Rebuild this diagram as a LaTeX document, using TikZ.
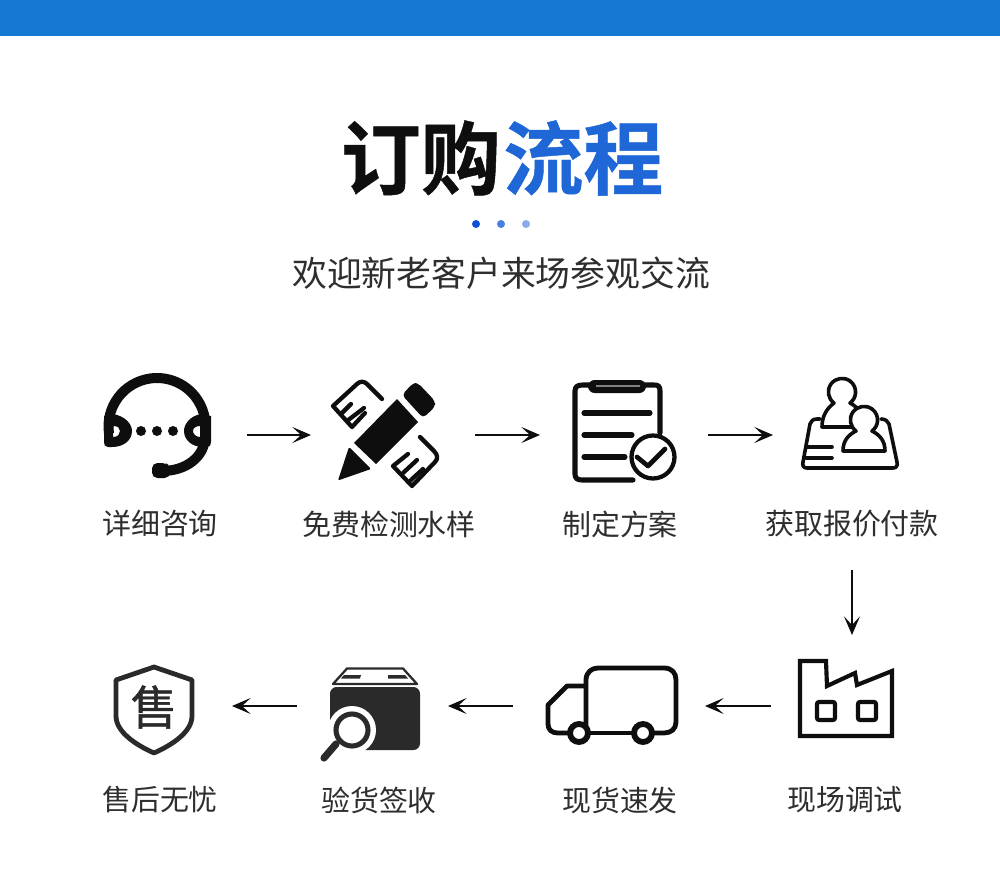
\documentclass[tikz,border=0pt]{standalone}
\usepackage{fontspec}
\usetikzlibrary{arrows.meta}
\setmainfont{Noto Sans CJK SC}
\newfontfamily\cjkl{Noto Sans CJK SC}
\newfontfamily\cjkm[FakeBold=1]{Noto Sans CJK SC}
\newfontfamily\cjkb[FakeBold=0.6]{Noto Sans CJK SC Bold}
\definecolor{bar}{HTML}{1478D2}
\definecolor{ttlblue}{HTML}{1F66D6}
\definecolor{dota}{HTML}{0F4FD8}
\definecolor{dotb}{HTML}{4A7FE0}
\definecolor{dotc}{HTML}{8AA9E8}
\definecolor{ink}{HTML}{0E0E0E}
\definecolor{txt}{HTML}{2E2E2E}
\definecolor{boxk}{HTML}{2A2A2A}
\tikzset{
  lbl/.style={inner sep=0pt,text=txt,font=\cjkl\fontsize{21.7}{24}\selectfont},
  conn/.style={draw=ink,line width=1.6pt,-{Stealth[length=14pt,width=12pt,inset=6.5pt]}},
  ico/.style={draw=ink,line width=3.2pt,line join=round,line cap=round},
  icoh/.style={draw=ink,line width=2.7pt,line join=round,line cap=round},
  icot/.style={draw=ink,line width=3.8pt,line join=round,line cap=round},
  slot/.style={inner sep=0pt,minimum size=0pt}
}
\begin{document}
\begin{tikzpicture}[x=0.75pt,y=-0.75pt]
\useasboundingbox (0,0) rectangle (1000,895);
\fill[white] (0,0) rectangle (1000,895);
\fill[bar] (0,0) rectangle (1000,36);
% title
\node[inner sep=0pt,anchor=east,text=ink,font=\cjkb\fontsize{60}{61}\selectfont] (t1) at (501,158) {订购};
\node[inner sep=0pt,anchor=west,text=ttlblue,font=\cjkb\fontsize{60}{61}\selectfont] (t2) at (503,158) {流程};
\fill[dota] (476,224) circle (4);
\fill[dotb] (501,224) circle (4);
\fill[dotc] (526,224) circle (4);
\node[inner sep=0pt,text=txt,font=\cjkl\fontsize{26.1}{28}\selectfont] (sub) at (501,273) {欢迎新老客户来场参观交流};
% labels
\node[lbl] (l1) at (160,524) {详细咨询};
\node[lbl] (l2) at (389,524) {免费检测水样};
\node[lbl] (l3) at (620,524) {制定方案};
\node[lbl] (l4) at (852,524) {获取报价付款};
\node[lbl] (l5) at (845,800) {现场调试};
\node[lbl] (l6) at (620,800) {现货速发};
\node[lbl] (l7) at (379,800) {验货签收};
\node[lbl] (l8) at (160,800) {售后无忧};
% headset
\draw[ink,line width=7.5pt] (157,426.5) ++(172:48.5) arc[start angle=172,end angle=368,radius=48.5];
\draw[ink,line width=7.5pt] (205,438) .. controls (204,457) and (186,471) .. (162,471);
\fill[ink,rounded corners=4pt] (152,463) -- (166,463) -- (170,466) -- (170,478) -- (152,478) -- cycle;
\fill[ink,even odd rule] (113,414) .. controls (125,416) and (132,424) .. (132,431) .. controls (132,440) and (124,447) .. (112,447) -- (108,447) .. controls (105,447) and (104,445) .. (104,442) -- (104,416) -- cycle
 (113,426) -- (113,437) .. controls (118,437) and (120,434) .. (120,431) .. controls (120,428) and (118,426) .. (113,426) -- cycle;
\fill[ink,even odd rule] (201,414) .. controls (190,416) and (184,424) .. (184,431) .. controls (184,440) and (192,447) .. (203,447) -- (207,447) .. controls (210,447) and (211,445) .. (211,442) -- (211,416) -- cycle
 (200,426) -- (200,437) .. controls (196,437) and (193,434) .. (193,431) .. controls (193,428) and (196,426) .. (200,426) -- cycle;
\foreach \x in {141,157,173} \fill[ink] (\x,431) circle (5);
% pencil & rulers
\fill[ink] (354,443) -- (397,399) -- (418,422) -- (376,464) -- cycle;
\fill[ink,rounded corners=3pt] (402,395) -- (413,383) -- (418,383) -- (435,401) -- (435,407) -- (423,418) -- cycle;
\fill[ink,rounded corners=1pt] (338,480.5) -- (349,447) -- (371,469) -- cycle;
\draw[ico] (382,399) -- (367,384) .. controls (364,381) and (360,381) .. (357,384) -- (333,406) -- (352,427) -- (365,413);
\draw[ico] (341,414) -- (351,404); \draw[ico] (347,421) -- (364,408);
\draw[ico] (420,437) -- (434,451) .. controls (438,455) and (438,459) .. (435,462) -- (412,486) -- (393,466) -- (408,454);
\draw[ico] (403,473) -- (417,460); \draw[ico] (411,480) -- (423,469);
% clipboard
\draw[icot] (660,433) -- (660,391) .. controls (660,386) and (658,385) .. (654,385) -- (583,385) .. controls (577,385) and (575,387) .. (575,391) -- (575,474) .. controls (575,478) and (577,480) .. (582,480) -- (633,480);
\fill[ink,rounded corners=5pt] (588,380) rectangle (646,393);
\draw[gray,line width=.8pt] (596,386) -- (640,386);
\draw[icot] (584,413) -- (650,413);
\draw[icot] (584,435) -- (632,435);
\draw[icot] (584,457) -- (625,457);
\draw[ink,line width=3.2pt] (653,457) circle (21.5);
\draw[ink,line width=3.5pt,line cap=round,line join=round] (637,457) -- (648,466) -- (665,449);
% people
\draw[icoh] (820,419) -- (817,419) .. controls (813,419) and (811,421) .. (810,424) -- (803,462) .. controls (802,466) and (804,468) .. (807,468) -- (893,468) .. controls (896,468) and (898,466) .. (897,462) -- (889,424) .. controls (888,421) and (885,419) .. (881,419);
\draw[icoh,fill=white] (822,427) .. controls (822,417) and (826,409) .. (834,403) arc[start angle=126,end angle=414,radius=13.6] .. controls (858,407) and (866,417) .. (866,427) -- cycle;
\draw[icoh,fill=white] (843,451) .. controls (843,441) and (848,435) .. (856,431) arc[start angle=126,end angle=414,radius=13.6] .. controls (880,435) and (885,441) .. (885,451) -- cycle;
\draw[icoh] (807,447) -- (832,447); \draw[icoh] (806,458) -- (832,458);
% factory
\draw[ico,line width=3.1pt,line cap=butt,line join=miter] (800,661) -- (826,661) -- (827,686) -- (855,673) -- (857,685) -- (892,671) -- (892,736) -- (800,736) -- cycle;
\draw[ico,line width=3.1pt,rounded corners=1.5pt] (817,702) rectangle (835,720);
\draw[ico,line width=3.1pt,rounded corners=1.5pt] (858,702) rectangle (876,720);
% truck
\draw[ink,line width=3.6pt,line join=round] (586,733) -- (586,680) .. controls (586,672) and (592,668) .. (598,668) -- (664,668) .. controls (672,668) and (676,673) .. (676,680) -- (676,722) .. controls (676,729) and (671,733) .. (664,733) -- (650,733);
\draw[ink,line width=3.6pt,line join=round] (586,686) -- (567,686) -- (548,705) -- (548,724) .. controls (548,730) and (552,733) .. (558,733) -- (568,733);
\draw[ink,line width=3.6pt] (590,733) -- (634,733);
\draw[ink,line width=4.4pt,fill=white] (579,733) circle (9);
\draw[ink,line width=4.4pt,fill=white] (643,733) circle (9);
% box
\fill[boxk,rounded corners=5pt] (330,687) rectangle (420,750);
\draw[boxk,line width=1.7pt,line join=round,fill=white] (333,684) -- (347,668.5) -- (403,668.5) -- (417,684) -- cycle;
\fill[boxk] (344,675) -- (361,675) -- (360,678.5) -- (341,678.5) -- cycle;
\fill[boxk] (388,675) -- (405,675) -- (408,678.5) -- (388,678.5) -- cycle;
\fill[white] (352,730) circle (24);
\fill[white] (325,730) rectangle (355,756);
\draw[boxk,line width=3.8pt,fill=white] (352,730) circle (16);
\draw[boxk,line width=5.4pt,line cap=round] (336,744) -- (324,758);
% shield
\draw[boxk,line width=3.6pt,line join=round,fill=white] (154,667) -- (192,680) -- (192,716) .. controls (192,732) and (172,745) .. (154,753) .. controls (136,745) and (116,732) .. (116,716) -- (116,680) -- cycle;
\node[inner sep=0pt,text=boxk,font=\cjkm\fontsize{35}{36}\selectfont] (sh) at (154,707) {售};
% connector ends
\coordinate (a1) at (247,435); \coordinate (b1) at (311,435);
\coordinate (a2) at (475,435); \coordinate (b2) at (540,435);
\coordinate (a3) at (708,435); \coordinate (b3) at (773,435);
\coordinate (a4) at (852,570); \coordinate (b4) at (852,635);
\coordinate (a5) at (771,706); \coordinate (b5) at (705,706);
\coordinate (a6) at (513,706); \coordinate (b6) at (448,706);
\coordinate (a7) at (297,706); \coordinate (b7) at (232,706);
\foreach \i in {1,...,7} \draw[conn] (a\i) -- (b\i);
\end{tikzpicture}
\end{document}
